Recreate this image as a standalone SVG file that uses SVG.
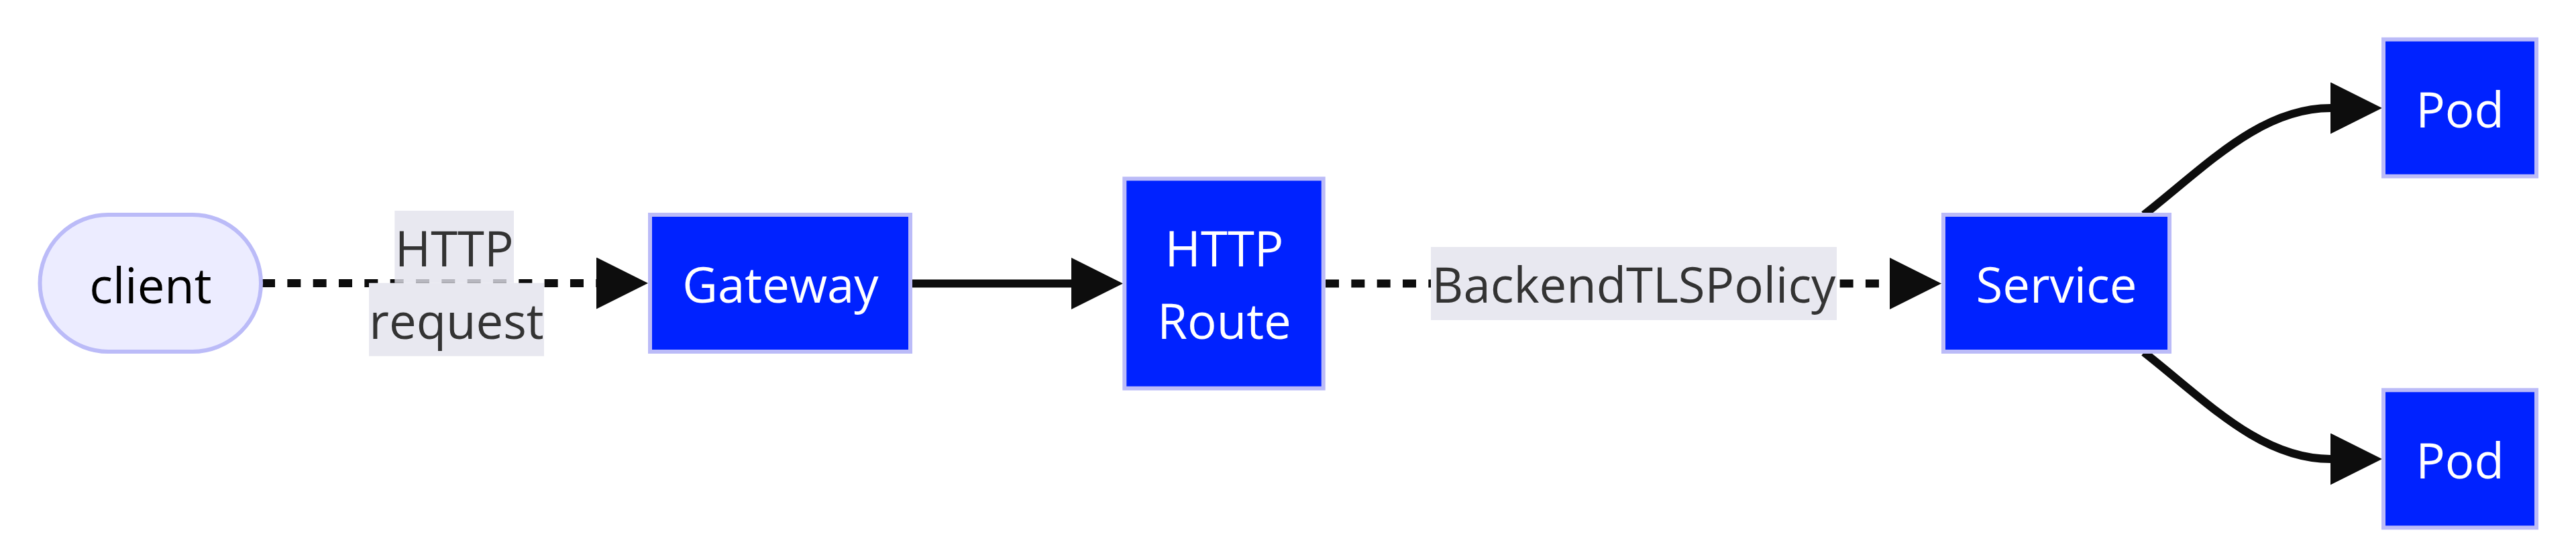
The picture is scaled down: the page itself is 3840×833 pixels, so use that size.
<svg xmlns="http://www.w3.org/2000/svg" width="3840" height="833" viewBox="0 0 3840 833">
<style>
  text { font-family: "Open Sans", "Noto Sans", "Liberation Sans", sans-serif; font-size: 72.5px; }
  .nbox { stroke: #bbbbf8; stroke-width: 6; }
  .blue { fill: #0022ff; }
  .light { fill: #ececff; }
  .ntext { fill: #ffffff; text-anchor: middle; }
  .dtext { fill: #000000; text-anchor: middle; }
  .ltext { fill: #333333; text-anchor: middle; }
  .lbl { fill: #e8e8f0; }
  .edge { stroke: #0d0d0d; stroke-width: 12; fill: none; }
  .dotted { stroke-dasharray: 20 18.33; }
</style>
<defs>
  <marker id="arrow" markerUnits="userSpaceOnUse" markerWidth="77" markerHeight="77" viewBox="0 0 10 10" refX="0" refY="5" orient="auto">
    <path d="M0,0 L10,5 L0,10 z" fill="#0d0d0d"/>
  </marker>
</defs>
<rect width="3840" height="833" fill="#ffffff"/>
<g id="connectors">
  <path id="e-client-gateway" class="edge dotted" d="M390,422 L889,422" marker-end="url(#arrow)"/>
  <path id="e-gateway-route" class="edge" d="M1360,422.5 L1597,422.5" marker-end="url(#arrow)"/>
  <path id="e-route-service" class="edge dotted" d="M1976,422.5 L2817,422.5" marker-end="url(#arrow)"/>
  <path id="e-service-pod1" class="edge" d="M3196,320 C3290,246 3370,161 3474,161" marker-end="url(#arrow)"/>
  <path id="e-service-pod2" class="edge" d="M3196,525 C3290,599 3370,684 3474,684" marker-end="url(#arrow)"/>
  <g id="label-http-request">
    <rect x="588.3" y="314" width="177.7" height="107.7" fill="#e2e2ec" fill-opacity="0.8"/>
    <rect class="lbl" x="550" y="421.7" width="261" height="109"/>
    <text class="ltext" x="677.2" y="397.3">HTTP</text>
    <text class="ltext" x="680.5" y="504.7">request</text>
  </g>
  <g id="label-backendtlspolicy">
    <rect class="lbl" x="2133" y="368" width="605" height="109"/>
    <text class="ltext" x="2435.5" y="451">BackendTLSPolicy</text>
  </g>
</g>
<g id="client">
  <rect class="nbox light" x="59.5" y="320" width="329.5" height="204" rx="102" ry="102"/>
  <text class="dtext" x="224.5" y="451.5">client</text>
</g>
<g id="gateway">
  <rect class="nbox blue" x="969" y="320" width="388" height="204"/>
  <text class="ntext" x="1163.5" y="451">Gateway</text>
</g>
<g id="httproute">
  <rect class="nbox blue" x="1676.3" y="266.3" width="296.4" height="312.4"/>
  <text class="ntext" x="1825" y="396.7">HTTP</text>
  <text class="ntext" x="1825" y="505">Route</text>
</g>
<g id="service">
  <rect class="nbox blue" x="2897" y="320" width="337" height="204"/>
  <text class="ntext" x="3065.5" y="451">Service</text>
</g>
<g id="pod1">
  <rect class="nbox blue" x="3553" y="58.7" width="228" height="204"/>
  <text class="ntext" x="3667" y="190">Pod</text>
</g>
<g id="pod2">
  <rect class="nbox blue" x="3553" y="581.3" width="228" height="205"/>
  <text class="ntext" x="3667" y="713.3">Pod</text>
</g>
</svg>
